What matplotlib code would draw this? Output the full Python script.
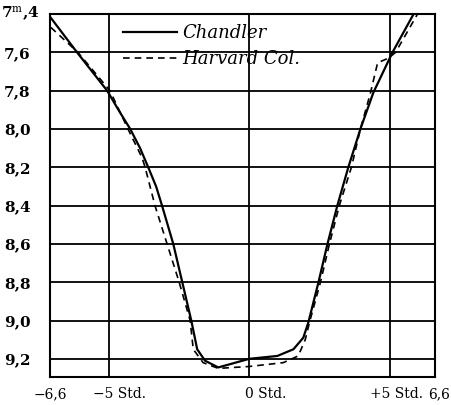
import numpy as np
import matplotlib
matplotlib.use("Agg")
import matplotlib.pyplot as plt

plt.rcParams['font.family'] = ['DejaVu Serif']
plt.rcParams['mathtext.fontset'] = 'dejavuserif'

# Chandler (solid) - hours from minimum, magnitude
chandler_t = [-7.05, -6.12, -5.05, -4.63, -4.23, -3.88, -3.59, -3.31, -3.10,
              -2.85, -2.70, -2.38, -2.06, -1.85, -1.57, -1.10, 0.0, 1.0,
              1.57, 1.92, 2.10, 2.28, 2.46, 2.78, 3.13, 3.52, 3.95, 4.41,
              5.09, 5.84]
chandler_m = [7.42, 7.60, 7.80, 7.905, 8.00, 8.10, 8.20, 8.30, 8.40,
              8.525, 8.60, 8.80, 9.00, 9.15, 9.21, 9.245, 9.20, 9.185,
              9.15, 9.09, 9.01, 8.905, 8.80, 8.60, 8.40, 8.20, 8.00, 7.81,
              7.60, 7.40]

# Harvard College (dashed)
harvard_t = [-7.05, -6.09, -4.95, -4.31, -3.81, -3.70, -3.35, -2.92, -2.49,
             -2.10, -1.99, -1.64, -1.10, 0.0, 1.21, 1.74, 1.99, 2.14, 2.53,
             2.85, 3.20, 3.63, 3.95, 4.31, 4.56, 4.95, 5.20, 5.98]
harvard_m = [7.47, 7.60, 7.80, 8.00, 8.15, 8.20, 8.40, 8.60, 8.80,
             9.00, 9.15, 9.22, 9.25, 9.24, 9.22, 9.185, 9.10, 9.01, 8.80,
             8.60, 8.40, 8.20, 8.00, 7.81, 7.655, 7.63, 7.60, 7.40]

ytick_vals = [7.6, 7.8, 8.0, 8.2, 8.4, 8.6, 8.8, 9.0, 9.2]
ytick_labels = ['7,6', '7,8', '8,0', '8,2', '8,4', '8,6', '8,8', '9,0', '9,2']
xgrid_vals = [-5, 0, 5]
x_left, x_right = -7.08, 6.6

fig = plt.figure(figsize=(4.52, 4.05), dpi=100, facecolor='w')
ax = fig.add_axes([0.1106, 0.0691, 0.8518, 0.8963])

ax.plot(chandler_t, chandler_m, 'k-', linewidth=1.6, label='Chandler')
ax.plot(harvard_t, harvard_m, 'k--', linewidth=1.2, dashes=(4, 3),
        label='Harvard Col.')

ax.set_xlim(x_left, x_right)
ax.set_ylim(9.295, 7.4)
ax.set_xticks(xgrid_vals)
ax.set_xticklabels([])
ax.set_yticks(ytick_vals)
ax.set_yticklabels(ytick_labels, fontsize=11, fontweight='bold')
ax.tick_params(length=0, pad=14)
ax.grid(True, color='k', linewidth=1.3)
for s in ax.spines.values():
    s.set_linewidth(1.5)

# top label of the y axis
ax.annotate('7$^{\\mathrm{m}}$,4', xy=(0, 1), xycoords='axes fraction',
            xytext=(-10, 0), textcoords='offset pixels', ha='right',
            va='center', fontsize=11, fontweight='bold')

# x labels
xlabs = [(x_left, '\u22126,6', 0, 'center'),
         (-5, '\u22125 Std.', -16, 'left'),
         (0, '0 Std.', -4, 'left'),
         (5, '+5 Std.', -20, 'left'),
         (x_right, '6,6', -7, 'left')]
for xv, txt, dx, ha in xlabs:
    ax.annotate(txt, xy=(xv, 0), xycoords=('data', 'axes fraction'),
                xytext=(dx, -17), textcoords='offset pixels', ha=ha,
                va='center', fontsize=10)

ax.legend(loc='upper left', bbox_to_anchor=(0.19, 0.972), frameon=False,
          borderaxespad=0, borderpad=0, handlelength=3.0, handletextpad=0.3,
          labelspacing=0.45, prop={'style': 'italic', 'size': 13})

plt.savefig('out.png', dpi=100)
